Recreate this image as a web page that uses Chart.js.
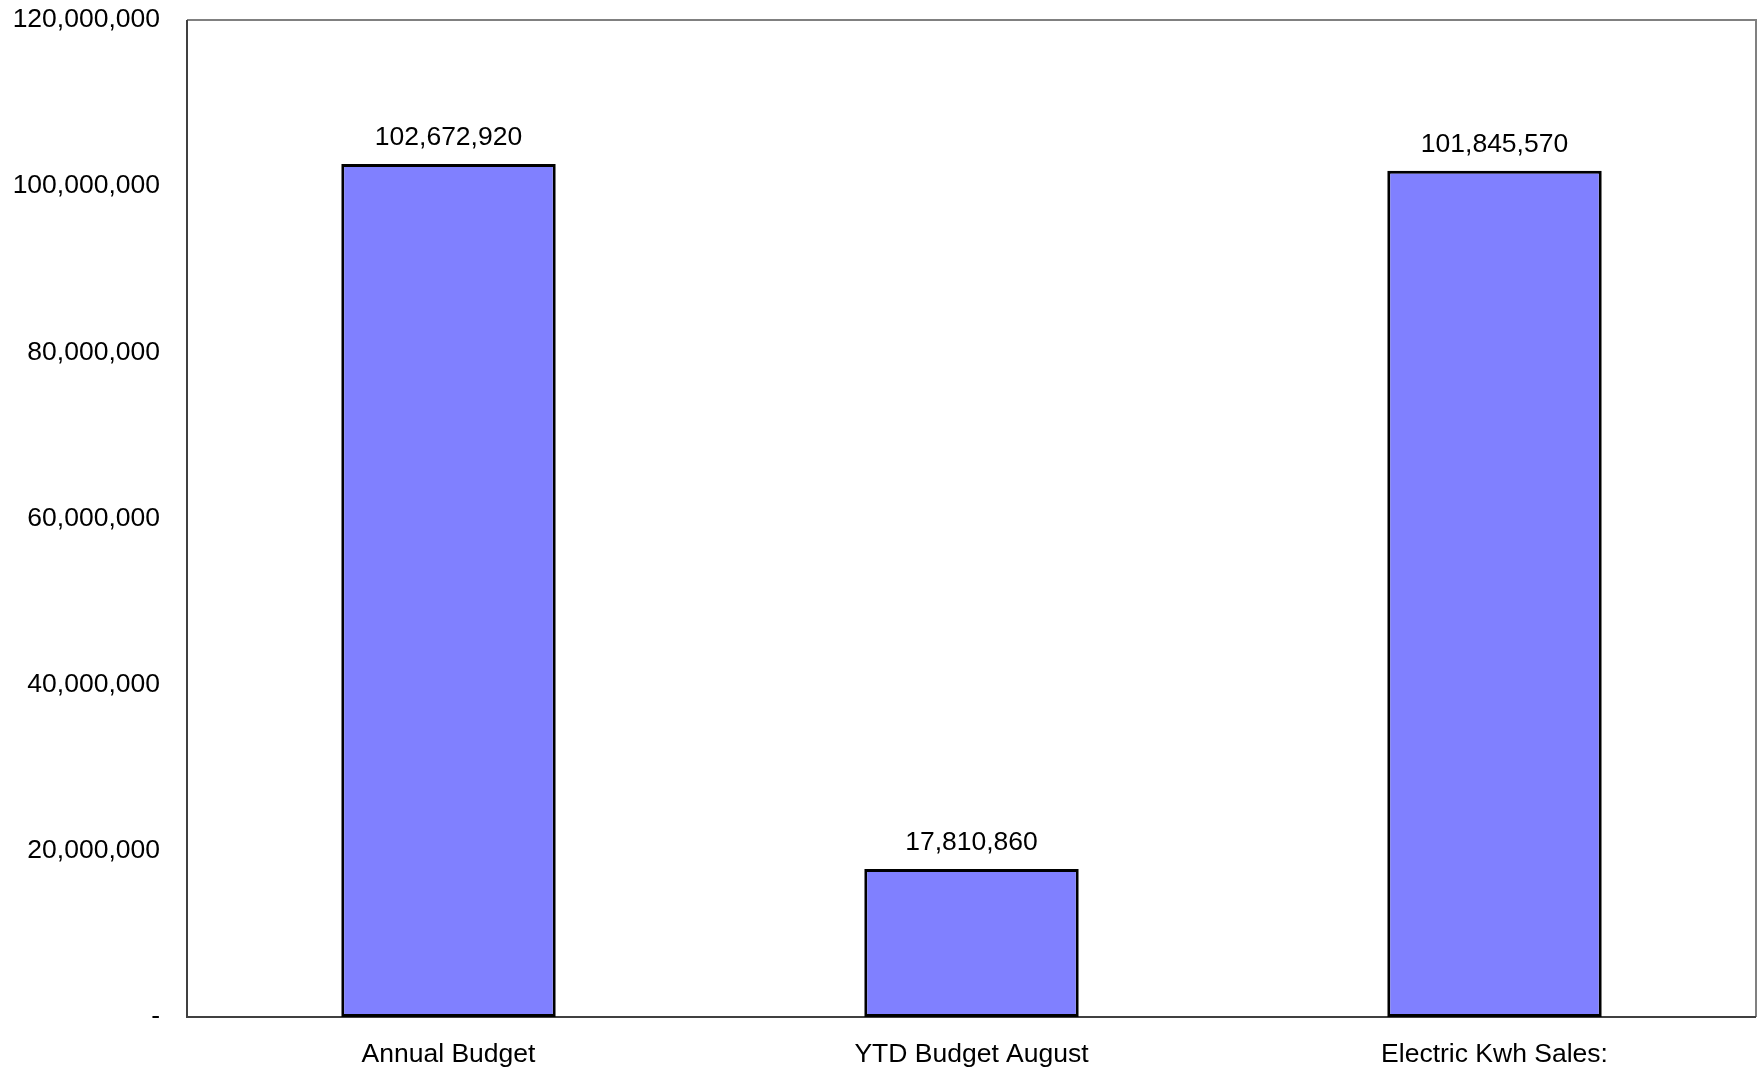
<!DOCTYPE html>
<html>
<head>
<meta charset="utf-8">
<script src="https://cdn.jsdelivr.net/npm/chart.js@4/dist/chart.umd.min.js"></script>
<style>
  html, body { margin: 0; padding: 0; background: #fff; }
</style>
</head>
<body>
<canvas id="salesChart" width="1757" height="1073"></canvas>
<script>
const categories = ['Annual Budget', 'YTD Budget August', 'Electric Kwh Sales:'];
const kwhValues = [102672920, 17810860, 101845570];
const yTicks = [0, 20000000, 40000000, 60000000, 80000000, 100000000, 120000000];

const fmt = v => v === 0 ? '-' : v.toLocaleString('en-US');
const FONT = '"Liberation Sans", Arial, sans-serif';

// value labels above the bars + frame round the plot
const extras = {
  id: 'extras',
  beforeDatasetsDraw(chart) {
    const ctx = chart.ctx;
    const a = chart.chartArea;
    ctx.save();
    ctx.lineWidth = 2;
    ctx.strokeStyle = '#808080';
    ctx.beginPath();
    ctx.moveTo(a.left, a.top);
    ctx.lineTo(a.right, a.top);
    ctx.lineTo(a.right, a.bottom);
    ctx.stroke();
    ctx.strokeStyle = '#404040';
    ctx.beginPath();
    ctx.moveTo(a.left, a.top);
    ctx.lineTo(a.left, a.bottom);
    ctx.lineTo(a.right, a.bottom);
    ctx.stroke();
    ctx.restore();
  },
  afterDatasetsDraw(chart) {
    const ctx = chart.ctx;
    ctx.save();
    ctx.fillStyle = '#000';
    ctx.font = '26.5px ' + FONT;
    ctx.textAlign = 'center';
    ctx.textBaseline = 'middle';
    chart.getDatasetMeta(0).data.forEach((bar, i) => {
      ctx.fillText(fmt(kwhValues[i]), bar.x, bar.y - 26);
    });
    ctx.restore();
  }
};

new Chart(document.getElementById('salesChart').getContext('2d'), {
  type: 'bar',
  data: {
    labels: categories,
    datasets: [{
      label: 'Electric Kwh',
      data: kwhValues,
      backgroundColor: '#8080ff',
      borderColor: '#000',
      borderWidth: 3,
      borderSkipped: false,
      barPercentage: 0.41,
      categoryPercentage: 1
    }]
  },
  options: {
    responsive: false,
    animation: false,
    layout: { padding: { top: 20, right: 1, left: 0, bottom: 0 } },
    plugins: { legend: { display: false }, tooltip: { enabled: false } },
    scales: {
      x: {
        grid: { display: false, drawTicks: false },
        border: { display: false },
        ticks: { color: '#000', padding: 22, font: { family: FONT, size: 26.5 } },
        afterFit: s => { s.height = 56; s.paddingLeft = 0; s.paddingRight = 0; }
      },
      y: {
        min: 0,
        max: 120000000,
        grid: { display: false, drawTicks: false },
        border: { display: false },
        afterBuildTicks: s => { s.ticks = yTicks.map(v => ({ value: v })); },
        ticks: {
          color: '#000',
          padding: 27,
          font: { family: FONT, size: 26.5 },
          callback: v => fmt(v)
        },
        afterFit: s => { s.width = 187; s.paddingTop = 0; s.paddingBottom = 0; }
      }
    }
  },
  plugins: [extras]
});
</script>
</body>
</html>
